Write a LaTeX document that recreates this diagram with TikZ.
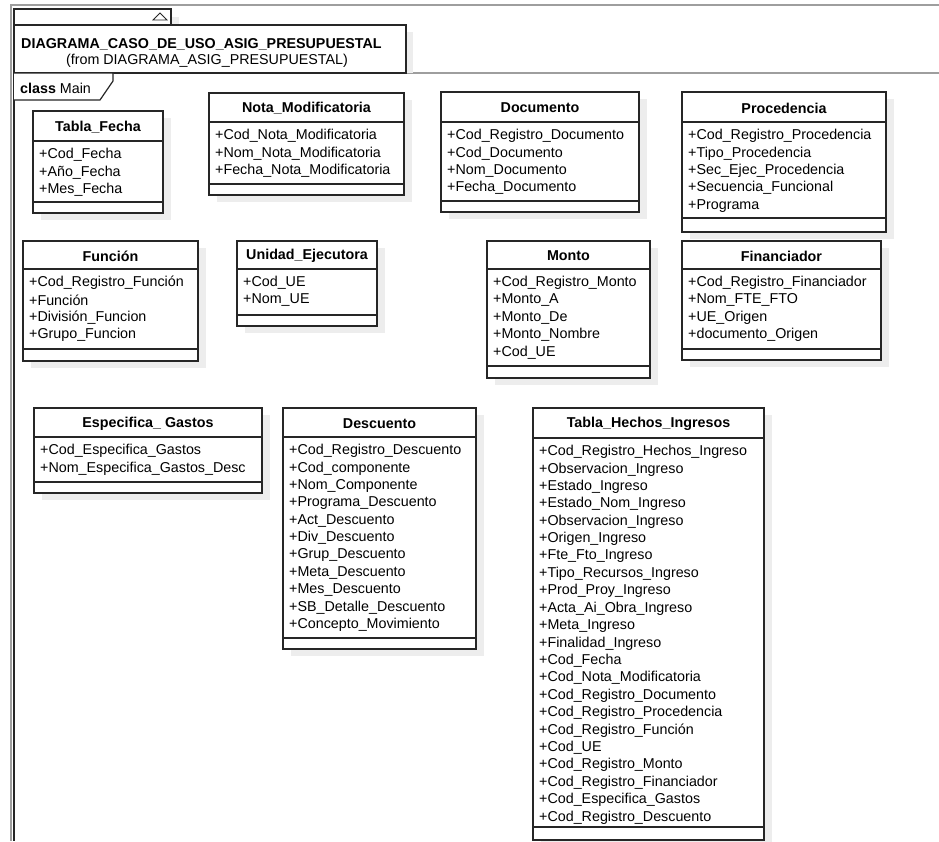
\documentclass[tikz,border=0pt]{standalone}
\usepackage{fontspec}
\setmainfont{Liberation Sans}
\begin{document}
\begin{tikzpicture}[x=1pt,y=-1pt,
  boxline/.style={draw=black!85,line width=1.2pt},
  shadowc/.style={fill=black!7},
  framegray/.style={draw=black!38,line width=2pt},
  titlef/.style={font=\fontsize{14.3}{16}\selectfont\bfseries,inner sep=0pt,anchor=center},
  attrf/.style={font=\fontsize{14.3}{16}\selectfont,inner sep=0pt,anchor=west},
  hdrf/.style={font=\fontsize{14.3}{16}\selectfont,inner sep=0pt}]
\useasboundingbox (0,0) rectangle (939,841);
\fill[white] (0,0) rectangle (939,841);
% outer frames
\draw[framegray] (11,841) -- (11,5) -- (939,5);
\draw[framegray] (406,73) -- (939,73);
\draw[boxline] (14,73) -- (14,841);
% package tab and header
\fill[shadowc] (171,17) rectangle (179,25);
\fill[shadowc] (406,32) rectangle (413,73);
\draw[boxline,fill=white] (14,9) rectangle (171,25);
\draw[line width=0.8pt,draw=black!85] (153,20) -- (160,13) -- (167,20) -- cycle;
\draw[boxline,fill=white] (14,25) rectangle (406,73);
\node[hdrf,font=\fontsize{14.3}{16}\selectfont\bfseries,anchor=west] (hdr) at (21,44) {DIAGRAMA\_CASO\_DE\_USO\_ASIG\_PRESUPUESTAL};
\node[hdrf,anchor=center] (hdrfrom) at (207,61) {(from DIAGRAMA\_ASIG\_PRESUPUESTAL)};
% class Main label
\draw[boxline,fill=white] (14,73) -- (113,73) -- (113,81) -- (100,100) -- (14,100);
\node[hdrf,anchor=west] (lbl) at (20,88) {\textbf{class} Main};

\newcommand{\umlbox}[8]{%
  \fill[shadowc] (#2+8,#3+7) rectangle (#4+8,#7+7);
  \draw[boxline,fill=white] (#2,#3) rectangle (#4,#7);
  \draw[boxline] (#2,#5) -- (#4,#5);
  \draw[boxline] (#2,#6) -- (#4,#6);
  \node[titlef] (#1) at ({(#2+#4)/2},{(#3+#5)/2+1}) {#8};
}
\newcommand{\umlattrs}[4]{%
  \foreach \a [count=\i from 0] in {#4} {
    \node[attrf] (#1-\i) at (#2+6,{#3+14+17.4*\i}) {\a};
  }
}

\umlbox{fecha}{33}{111}{163}{141}{202}{213}{Tabla\_Fecha}
\umlattrs{fecha}{33}{141}{+Cod\_Fecha,+Año\_Fecha,+Mes\_Fecha}

\umlbox{nota}{209}{93}{404}{122}{184}{195}{Nota\_Modificatoria}
\umlattrs{nota}{209}{122}{+Cod\_Nota\_Modificatoria,+Nom\_Nota\_Modificatoria,+Fecha\_Nota\_Modificatoria}

\umlbox{doc}{441}{92}{639}{122}{201}{212}{Documento}
\umlattrs{doc}{441}{122}{+Cod\_Registro\_Documento,+Cod\_Documento,+Nom\_Documento,+Fecha\_Documento}

\umlbox{proc}{682}{92}{886}{122}{218}{232}{Procedencia}
\umlattrs{proc}{682}{122}{+Cod\_Registro\_Procedencia,+Tipo\_Procedencia,+Sec\_Ejec\_Procedencia,+Secuencia\_Funcional,+Programa}

\umlbox{func}{23}{241}{198}{269}{349}{361}{Función}
\umlattrs{func}{23}{269}{+Cod\_Registro\_Función,+Función,+División\_Funcion,+Grupo\_Funcion}

\umlbox{ue}{237}{241}{377}{269}{315}{326}{Unidad\_Ejecutora}
\umlattrs{ue}{237}{269}{+Cod\_UE,+Nom\_UE}

\umlbox{monto}{487}{241}{650}{269}{366}{378}{Monto}
\umlattrs{monto}{487}{269}{+Cod\_Registro\_Monto,+Monto\_A,+Monto\_De,+Monto\_Nombre,+Cod\_UE}

\umlbox{fin}{682}{241}{881}{269}{349}{360}{Financiador}
\umlattrs{fin}{682}{269}{+Cod\_Registro\_Financiador,+Nom\_FTE\_FTO,+UE\_Origen,+documento\_Origen}

\umlbox{esp}{34}{408}{262}{437}{482}{493}{Especifica\_ Gastos}
\umlattrs{esp}{34}{437}{+Cod\_Especifica\_Gastos,+Nom\_Especifica\_Gastos\_Desc}

\umlbox{desc}{283}{408}{476}{437}{638}{649}{Descuento}
\umlattrs{desc}{283}{437}{+Cod\_Registro\_Descuento,+Cod\_componente,+Nom\_Componente,+Programa\_Descuento,+Act\_Descuento,+Div\_Descuento,+Grup\_Descuento,+Meta\_Descuento,+Mes\_Descuento,+SB\_Detalle\_Descuento,+Concepto\_Movimiento}

\umlbox{hechos}{533}{408}{764}{438}{827}{840}{Tabla\_Hechos\_Ingresos}
\umlattrs{hechos}{533}{438}{+Cod\_Registro\_Hechos\_Ingreso,+Observacion\_Ingreso,+Estado\_Ingreso,+Estado\_Nom\_Ingreso,+Observacion\_Ingreso,+Origen\_Ingreso,+Fte\_Fto\_Ingreso,+Tipo\_Recursos\_Ingreso,+Prod\_Proy\_Ingreso,+Acta\_Ai\_Obra\_Ingreso,+Meta\_Ingreso,+Finalidad\_Ingreso,+Cod\_Fecha,+Cod\_Nota\_Modificatoria,+Cod\_Registro\_Documento,+Cod\_Registro\_Procedencia,+Cod\_Registro\_Función,+Cod\_UE,+Cod\_Registro\_Monto,+Cod\_Registro\_Financiador,+Cod\_Especifica\_Gastos,+Cod\_Registro\_Descuento}
\end{tikzpicture}
\end{document}
